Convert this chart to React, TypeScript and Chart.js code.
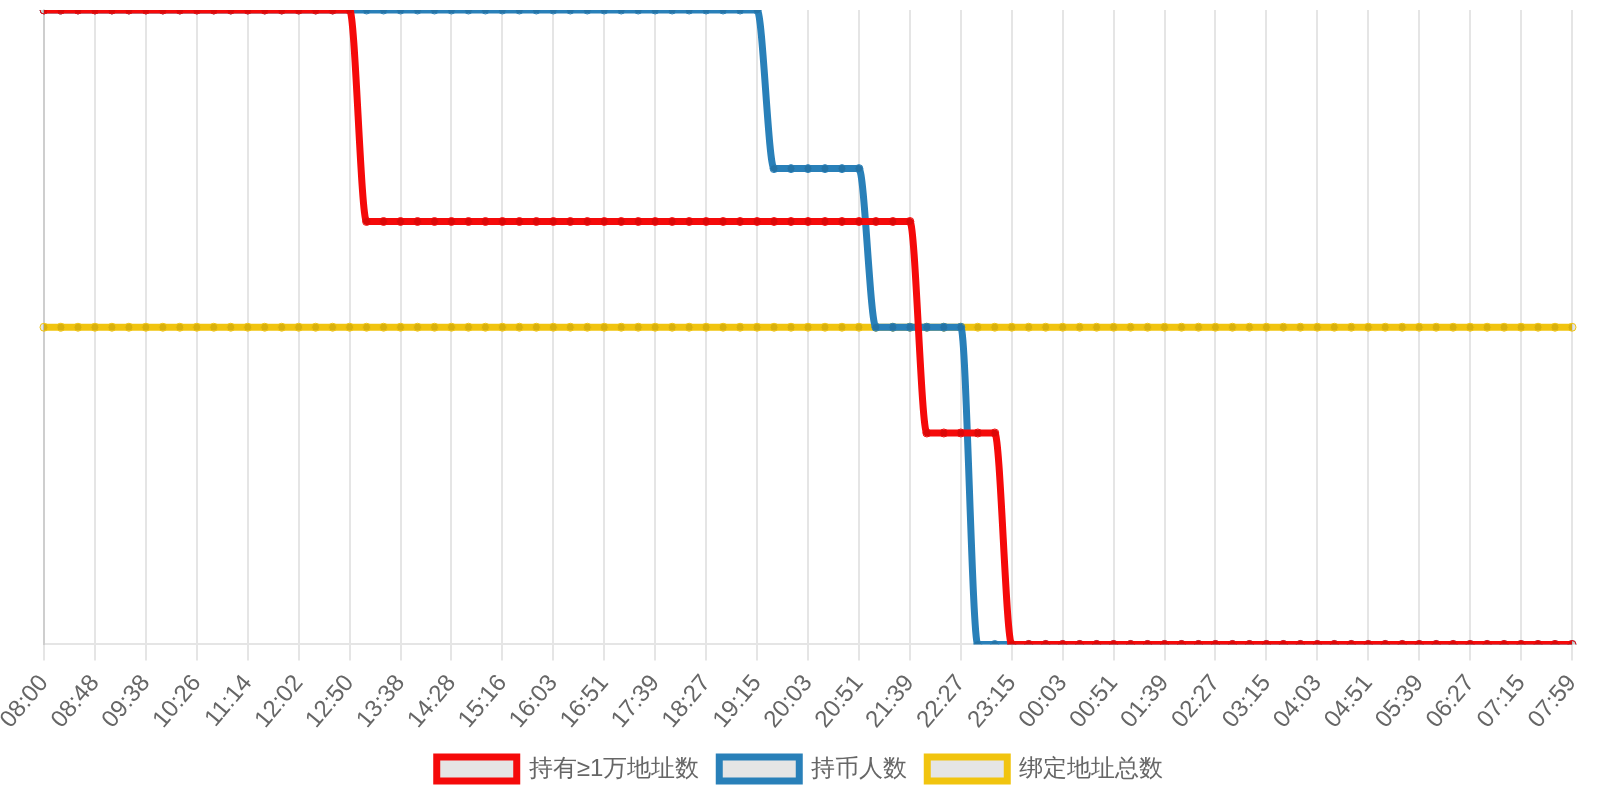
import React, { useEffect, useRef } from "react";
import { Chart, registerables } from "chart.js";

Chart.register(...registerables);

const timeLabels = [
  "08:00", "08:16", "08:32", "08:48", "09:05", "09:21", "09:38", "09:54", "10:10", "10:26",
  "10:42", "10:58", "11:14", "11:30", "11:46", "12:02", "12:18", "12:34", "12:50", "13:06",
  "13:22", "13:38", "13:55", "14:11", "14:28", "14:44", "15:00", "15:16", "15:32", "15:47",
  "16:03", "16:19", "16:35", "16:51", "17:07", "17:23", "17:39", "17:55", "18:11", "18:27",
  "18:43", "18:59", "19:15", "19:31", "19:47", "20:03", "20:19", "20:35", "20:51", "21:07",
  "21:23", "21:39", "21:55", "22:11", "22:27", "22:43", "22:59", "23:15", "23:31", "23:47",
  "00:03", "00:19", "00:35", "00:51", "01:07", "01:23", "01:39", "01:55", "02:11", "02:27",
  "02:43", "02:59", "03:15", "03:31", "03:47", "04:03", "04:19", "04:35", "04:51", "05:07",
  "05:23", "05:39", "05:55", "06:11", "06:27", "06:43", "06:59", "07:15", "07:30", "07:44",
  "07:59",
];

// 持有≥1万地址数
const holders10k = [
  12, 12, 12, 12, 12, 12, 12, 12, 12, 12,
  12, 12, 12, 12, 12, 12, 12, 12, 12, 8,
  8, 8, 8, 8, 8, 8, 8, 8, 8, 8,
  8, 8, 8, 8, 8, 8, 8, 8, 8, 8,
  8, 8, 8, 8, 8, 8, 8, 8, 8, 8,
  8, 8, 4, 4, 4, 4, 4, 0, 0, 0,
  0, 0, 0, 0, 0, 0, 0, 0, 0, 0,
  0, 0, 0, 0, 0, 0, 0, 0, 0, 0,
  0, 0, 0, 0, 0, 0, 0, 0, 0, 0,
  0,
];

// 持币人数
const coinHolders = [
  12, 12, 12, 12, 12, 12, 12, 12, 12, 12,
  12, 12, 12, 12, 12, 12, 12, 12, 12, 12,
  12, 12, 12, 12, 12, 12, 12, 12, 12, 12,
  12, 12, 12, 12, 12, 12, 12, 12, 12, 12,
  12, 12, 12, 9, 9, 9, 9, 9, 9, 6,
  6, 6, 6, 6, 6, 0, 0, 0, 0, 0,
  0, 0, 0, 0, 0, 0, 0, 0, 0, 0,
  0, 0, 0, 0, 0, 0, 0, 0, 0, 0,
  0, 0, 0, 0, 0, 0, 0, 0, 0, 0,
  0,
];

// 绑定地址总数
const boundAddresses = [
  6, 6, 6, 6, 6, 6, 6, 6, 6, 6,
  6, 6, 6, 6, 6, 6, 6, 6, 6, 6,
  6, 6, 6, 6, 6, 6, 6, 6, 6, 6,
  6, 6, 6, 6, 6, 6, 6, 6, 6, 6,
  6, 6, 6, 6, 6, 6, 6, 6, 6, 6,
  6, 6, 6, 6, 6, 6, 6, 6, 6, 6,
  6, 6, 6, 6, 6, 6, 6, 6, 6, 6,
  6, 6, 6, 6, 6, 6, 6, 6, 6, 6,
  6, 6, 6, 6, 6, 6, 6, 6, 6, 6,
  6,
];

const GRID = "rgba(0,0,0,0.1)";

const HoldersChart = () => {
  const chartRef = useRef<HTMLCanvasElement | null>(null);
  const chartInstance = useRef<Chart | null>(null);

  useEffect(() => {
    if (chartInstance.current) chartInstance.current.destroy();
    const ctx = chartRef.current?.getContext("2d");
    if (!ctx) return;

    const line = (label: string, data: number[], color: string) => ({
      label,
      data,
      borderColor: color,
      backgroundColor: GRID,
      borderWidth: 7,
      pointRadius: 4,
      pointBorderWidth: 1,
      pointBorderColor: color,
      pointBackgroundColor: GRID,
      cubicInterpolationMode: "monotone" as const,
      fill: false,
    });

    chartInstance.current = new Chart(ctx, {
      type: "line",
      data: {
        labels: timeLabels,
        datasets: [
          line("持有≥1万地址数", holders10k, "#f50a0a"),
          line("持币人数", coinHolders, "#2980b9"),
          line("绑定地址总数", boundAddresses, "#f1c40f"),
        ],
      },
      options: {
        responsive: true,
        maintainAspectRatio: false,
        animation: false,
        layout: { padding: { top: 10, bottom: 9 } },
        scales: {
          x: {
            grid: {
              color: (c: any) => (c.index % 3 === 0 ? GRID : "rgba(0,0,0,0)"),
              lineWidth: 2,
              tickLength: 16,
            },
            border: { color: GRID, width: 2 },
            ticks: {
              autoSkip: false,
              minRotation: 50,
              maxRotation: 50,
              padding: 9,
              color: "#666",
              font: { size: 24 },
              callback: (_v: any, i: number) => (i % 3 === 0 ? timeLabels[i] : ""),
            },
            afterFit: (s: any) => {
              s.paddingLeft = 44;
              s.paddingRight = 28;
              s.height -= 6;
            },
          },
          y: {
            min: 0,
            max: 12,
            grid: { display: false },
            border: { display: true, color: GRID, width: 2 },
            ticks: { display: false },
          },
        },
        plugins: {
          legend: {
            position: "bottom",
            labels: {
              boxWidth: 80,
              boxHeight: 24,
              color: "#666",
              font: { size: 24 },
              padding: 20,
            },
          },
          tooltip: { enabled: false },
        },
      },
    });

    return () => {
      if (chartInstance.current) chartInstance.current.destroy();
      chartInstance.current = null;
    };
  }, []);

  return (
    <div style={{ position: "absolute", left: 0, top: 0, width: 1600, height: 800 }}>
      <canvas ref={chartRef}></canvas>
    </div>
  );
};

export default function App() {
  return <HoldersChart />;
}
